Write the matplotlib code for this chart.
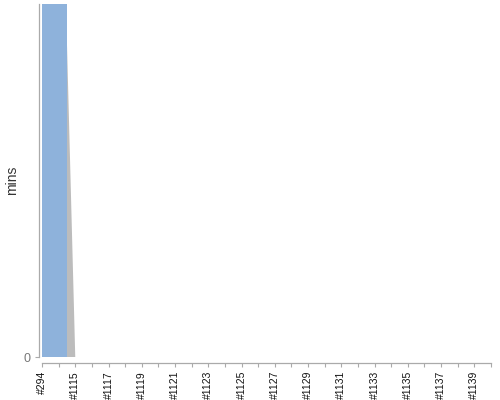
import matplotlib
matplotlib.use('Agg')
import matplotlib.pyplot as plt
import numpy as np

plt.rcParams['font.family'] = ['Liberation Sans', 'DejaVu Sans']

builds = ['#294', '#1114', '#1115', '#1116', '#1117', '#1118', '#1119',
          '#1120', '#1121', '#1122', '#1123', '#1124', '#1125', '#1126',
          '#1127', '#1128', '#1129', '#1130', '#1131', '#1132', '#1133',
          '#1134', '#1135', '#1136', '#1137', '#1138', '#1139', '#1140']

# build time in minutes, the first two builds run far off the scale
blue_mins = [8.0, 8.0, 0, 0, 0, 0, 0, 0, 0, 0, 0, 0, 0, 0,
             0, 0, 0, 0, 0, 0, 0, 0, 0, 0, 0, 0, 0, 0]
grey_mins = [0.9, 0.9, 0, 0, 0, 0, 0, 0, 0, 0, 0, 0, 0, 0,
             0, 0, 0, 0, 0, 0, 0, 0, 0, 0, 0, 0, 0, 0]
y_top = 5.0

x = np.arange(len(builds))
total = np.array(blue_mins) + np.array(grey_mins)

fig = plt.figure(figsize=(5, 4), dpi=100)
ax = fig.add_axes([0.084, 0.1075, 0.898, 0.8825])

ax.fill_between(x, 0, total, color='#bcbcbc', linewidth=0)
ax.fill_between(x, 0, blue_mins, step='mid', color='#8eb2db', linewidth=0)

ax.set_xlim(0, len(builds) - 1)
ax.set_ylim(0, y_top)

for side in ['top', 'right']:
    ax.spines[side].set_visible(False)
ax.spines['left'].set_position(('outward', 2.2))
ax.spines['bottom'].set_position(('outward', 4))
for side in ['left', 'bottom']:
    ax.spines[side].set_color('#aaaaaa')
    ax.spines[side].set_linewidth(0.9)
ax.tick_params(axis='both', colors='#aaaaaa', length=3, width=0.8)
ax.tick_params(axis='x', labelcolor='#111111', pad=3, labelrotation=90,
               labelsize=7.5)
ax.tick_params(axis='y', labelcolor='#777777', pad=3, labelsize=9)

ax.set_xticks(x)
ax.set_xticklabels([b if i % 2 == 0 else '' for i, b in enumerate(builds)])
ax.set_yticks([0])
ax.set_yticklabels(['0'])
ax.set_ylabel('mins', fontsize=10, color='#333333', labelpad=3)

fig.savefig('out.png', dpi=100)
